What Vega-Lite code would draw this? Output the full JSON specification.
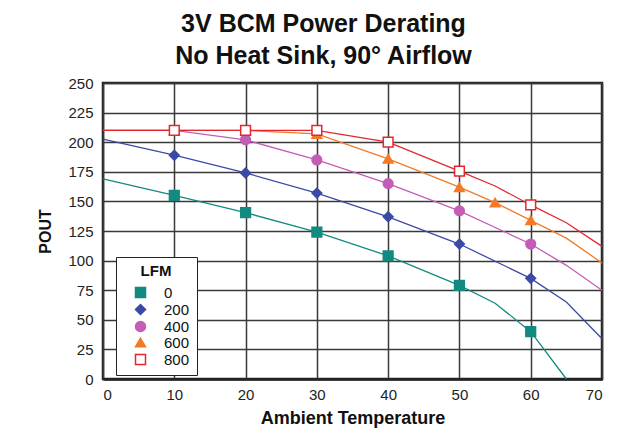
{
  "$schema": "https://vega.github.io/schema/vega-lite/v6.json",
  "autosize": {"type": "none"},
  "padding": {"left": 103, "top": 83, "right": 34, "bottom": 55},
  "width": 499,
  "height": 296,
  "background": "white",
  "title": {
    "text": ["3V BCM Power Derating", "No Heat Sink, 90° Airflow"],
    "font": "Liberation Sans",
    "fontSize": 25,
    "fontWeight": "bold",
    "color": "#111",
    "anchor": "middle",
    "dx": -29,
    "lineHeight": 32,
    "offset": 7
  },
  "config": {
    "view": {"stroke": "#222", "strokeWidth": 2.5},
    "font": "Liberation Sans",
    "legend": {
      "orient": "none",
      "legendX": 13,
      "legendY": 174,
      "fillColor": "white",
      "strokeColor": "#222",
      "padding": 7,
      "titleFont": "Liberation Sans", "titleFontSize": 15, "titleFontWeight": "bold", "titleColor": "#111",
      "titleAnchor": "middle",
      "titlePadding": 6,
      "labelFont": "Liberation Sans", "labelFontSize": 15, "labelColor": "#111",
      "symbolSize": 100,
      "symbolStrokeWidth": 1.5,
      "symbolOffset": 10,
      "labelOffset": 16,
      "rowPadding": 0
    }
  },
  "data": {
    "values": [
      {"series": "0", "t": 0, "p": 169, "m": 0},
      {"series": "0", "t": 10, "p": 155, "m": 1},
      {"series": "0", "t": 20, "p": 140.5, "m": 1},
      {"series": "0", "t": 30, "p": 124, "m": 1},
      {"series": "0", "t": 40, "p": 104, "m": 1},
      {"series": "0", "t": 50, "p": 79, "m": 1},
      {"series": "0", "t": 55, "p": 64, "m": 0},
      {"series": "0", "t": 60, "p": 40, "m": 1},
      {"series": "0", "t": 65, "p": 0, "m": 0},
      {"series": "200", "t": 0, "p": 202.5, "m": 0},
      {"series": "200", "t": 10, "p": 189, "m": 1},
      {"series": "200", "t": 20, "p": 174, "m": 1},
      {"series": "200", "t": 30, "p": 157, "m": 1},
      {"series": "200", "t": 40, "p": 137, "m": 1},
      {"series": "200", "t": 50, "p": 114, "m": 1},
      {"series": "200", "t": 60, "p": 85, "m": 1},
      {"series": "200", "t": 65, "p": 65, "m": 0},
      {"series": "200", "t": 70, "p": 34, "m": 0},
      {"series": "400", "t": 0, "p": 210, "m": 0},
      {"series": "400", "t": 10, "p": 210, "m": 1},
      {"series": "400", "t": 20, "p": 202, "m": 1},
      {"series": "400", "t": 30, "p": 185, "m": 1},
      {"series": "400", "t": 40, "p": 165, "m": 1},
      {"series": "400", "t": 50, "p": 142, "m": 1},
      {"series": "400", "t": 60, "p": 114, "m": 1},
      {"series": "400", "t": 65, "p": 96, "m": 0},
      {"series": "400", "t": 70, "p": 75, "m": 0},
      {"series": "600", "t": 0, "p": 210, "m": 0},
      {"series": "600", "t": 10, "p": 210, "m": 1},
      {"series": "600", "t": 20, "p": 210, "m": 1},
      {"series": "600", "t": 30, "p": 207, "m": 1},
      {"series": "600", "t": 40, "p": 186, "m": 1},
      {"series": "600", "t": 50, "p": 162, "m": 1},
      {"series": "600", "t": 55, "p": 149, "m": 1},
      {"series": "600", "t": 60, "p": 134, "m": 1},
      {"series": "600", "t": 65, "p": 119, "m": 0},
      {"series": "600", "t": 70, "p": 98, "m": 0},
      {"series": "800", "t": 0, "p": 210, "m": 0},
      {"series": "800", "t": 10, "p": 210, "m": 1},
      {"series": "800", "t": 20, "p": 210, "m": 1},
      {"series": "800", "t": 30, "p": 210, "m": 1},
      {"series": "800", "t": 40, "p": 200, "m": 1},
      {"series": "800", "t": 50, "p": 175.5, "m": 1},
      {"series": "800", "t": 55, "p": 163, "m": 0},
      {"series": "800", "t": 60, "p": 147, "m": 1},
      {"series": "800", "t": 65, "p": 132, "m": 0},
      {"series": "800", "t": 70, "p": 112, "m": 0}
    ]
  },
  "encoding": {
    "x": {
      "field": "t", "type": "quantitative",
      "scale": {"domain": [0, 70], "nice": false},
      "axis": {
        "title": "Ambient Temperature",
        "titleFont": "Liberation Sans", "titleFontSize": 18, "titleFontWeight": "bold", "titleColor": "#111",
        "titlePadding": 7,
        "values": [0, 10, 20, 30, 40, 50, 60, 70],
        "labelFont": "Liberation Sans", "labelFontSize": 15, "labelColor": "#222",
        "labelPadding": 8,
        "ticks": false,
        "domain": true, "domainColor": "#222", "domainWidth": 2.5,
        "grid": true, "gridColor": "#3a3a3a", "gridWidth": 1.5, "gridOpacity": 1
      }
    },
    "y": {
      "field": "p", "type": "quantitative",
      "scale": {"domain": [0, 250], "nice": false},
      "axis": {
        "title": "POUT",
        "titleFont": "Liberation Sans", "titleFontSize": 16, "titleFontWeight": "bold", "titleColor": "#111",
        "titlePadding": 14,
        "values": [0, 25, 50, 75, 100, 125, 150, 175, 200, 225, 250],
        "labelFont": "Liberation Sans", "labelFontSize": 15, "labelColor": "#222",
        "labelPadding": 10,
        "ticks": false,
        "domain": false,
        "grid": true, "gridColor": "#3a3a3a", "gridWidth": 1.5, "gridOpacity": 1
      }
    }
  },
  "layer": [
    {
      "mark": {"type": "line", "strokeWidth": 1.3},
      "encoding": {
        "detail": {"field": "series"},
        "stroke": {
          "field": "series", "type": "nominal",
          "scale": {"domain": ["0", "200", "400", "600", "800"], "range": ["#138a80", "#3a4aa6", "#c45db5", "#f47a26", "#e5262f"]},
          "legend": {"title": "LFM"}
        }
      }
    },
    {
      "transform": [{"filter": "datum.m == 1"}],
      "mark": {"type": "point", "filled": true, "size": 95, "strokeWidth": 1.5, "opacity": 1},
      "encoding": {
        "stroke": {
          "field": "series", "type": "nominal",
          "scale": {"domain": ["0", "200", "400", "600", "800"], "range": ["#138a80", "#3a4aa6", "#c45db5", "#f47a26", "#e5262f"]},
          "legend": {"title": "LFM"}
        },
        "fill": {
          "field": "series", "type": "nominal",
          "scale": {"domain": ["0", "200", "400", "600", "800"], "range": ["#138a80", "#3a4aa6", "#c45db5", "#f47a26", "#ffffff"]}
        },
        "shape": {
          "field": "series", "type": "nominal",
          "scale": {"domain": ["0", "200", "400", "600", "800"], "range": ["square", "diamond", "circle", "triangle-up", "square"]}
        }
      }
    }
  ]
}
